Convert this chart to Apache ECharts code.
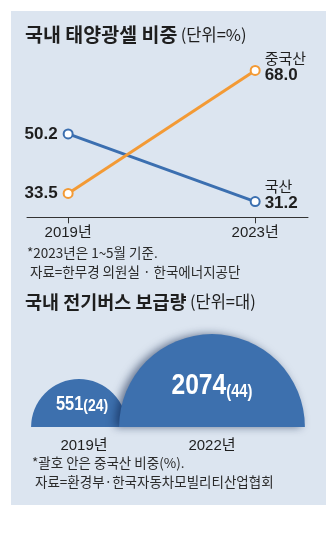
<!DOCTYPE html>
<html>
<head>
<meta charset="utf-8">
<script src="https://cdn.jsdelivr.net/npm/echarts@6/dist/echarts.min.js"></script>
<style>
html,body{margin:0;padding:0;background:#fff;}
#c{width:336px;height:536px;}
</style>
</head>
<body>
<div id="c"></div>
<script>
// ---- data ----
const solarYears = [2019, 2023];
const seriesNames = ['국산', '중국산'];
const domesticShare = [50.2, 31.2];
const chinaShare = [33.5, 68.0];
const busYearLabels = ['2019년', '2022년'];
const busCounts = [551, 2074];
const busChinaShare = [24, 44];

const NUM = "'Liberation Sans', 'Noto Sans CJK KR'";
const KR = "'Noto Sans CJK KR', 'Noto Sans'";
const BLUE = '#3b6fb0';
const ORANGE = '#f39a35';
const BUS = '#3d70ae';
const TXT = '#1e1e1e';
const RADIUS_K = 2.04;

function lineData(vals) {
  return vals.map(function (v, i) { return [solarYears[i], v]; });
}

const chart = echarts.init(document.getElementById('c'), null, {renderer: 'canvas'});

function endLabel(name, offsetY) {
  return {
    show: true, position: 'right', distance: 4, offset: [0, offsetY],
    formatter: function (p) { return '{n|' + name + '}\n{v|' + p.value[1].toFixed(1) + '}'; },
    rich: {
      n: {fontFamily: KR, fontSize: 15, color: TXT, lineHeight: 17},
      v: {fontFamily: NUM, fontSize: 17, fontWeight: 'bold', color: TXT, lineHeight: 17}
    }
  };
}
const startLabel = {
  show: true, position: 'left', distance: 5,
  formatter: function (p) { return p.value[1].toFixed(1); },
  fontFamily: NUM, fontSize: 17, fontWeight: 'bold', color: TXT
};

function buildSeriesData(vals, name, endOffset) {
  return lineData(vals).map(function (d, i) {
    return {value: d, label: i === 0 ? startLabel : endLabel(name, endOffset)};
  });
}

const noteFont = '13.5px ' + KR;

const option = {
  backgroundColor: '#ffffff',
  animation: false,
  graphic: [
    {type: 'rect', z: -10, shape: {x: 11, y: 11, width: 315, height: 494}, style: {fill: '#dce5f0'}},
    {type: 'text', x: 25, y: 35, style: {
      text: '{t|국내 태양광셀 비중} {u|(단위=%)}', verticalAlign: 'middle', textVerticalAlign: 'middle',
      rich: {t: {fontFamily: KR, fontSize: 19.5, fontWeight: 'bold', fill: TXT}, u: {fontFamily: KR, fontSize: 16.5, fill: TXT}}
    }},
    {type: 'text', x: 27, y: 253, style: {text: '*2023년은 1~5월 기준.', font: noteFont, fill: '#2a2a2a', verticalAlign: 'middle', textVerticalAlign: 'middle'}},
    {type: 'text', x: 30, y: 272, style: {text: '자료=한무경 의원실 · 한국에너지공단', font: noteFont, fill: '#2a2a2a', verticalAlign: 'middle', textVerticalAlign: 'middle'}},
    {type: 'text', x: 25, y: 302, style: {
      text: '{t|국내 전기버스 보급량} {u|(단위=대)}', verticalAlign: 'middle', textVerticalAlign: 'middle',
      rich: {t: {fontFamily: KR, fontSize: 18.5, fontWeight: 'bold', fill: TXT}, u: {fontFamily: KR, fontSize: 16.5, fill: TXT}}
    }},
    {type: 'text', x: 32, y: 463, style: {text: '*괄호 안은 중국산 비중(%).', font: noteFont, fill: '#2a2a2a', verticalAlign: 'middle', textVerticalAlign: 'middle'}},
    {type: 'text', x: 35, y: 482, style: {text: '자료=환경부·한국자동차모빌리티산업협회', font: noteFont, fill: '#2a2a2a', verticalAlign: 'middle', textVerticalAlign: 'middle'}}
  ],
  grid: [
    {left: 27, right: 28, top: 45.5, bottom: 318.7},
    {left: 11, right: 10, top: 320, bottom: 109}
  ],
  xAxis: [
    {
      gridIndex: 0, type: 'value', min: 2018.12, max: 2024.13,
      splitLine: {show: false},
      axisLine: {show: true, lineStyle: {color: '#333', width: 1}},
      axisTick: {show: true, customValues: solarYears, length: 6, lineStyle: {color: '#333'}},
      axisLabel: {show: true, customValues: solarYears, margin: 8, formatter: function (v) { return v + '년'; },
        fontFamily: NUM, fontSize: 15, color: TXT}
    },
    {
      gridIndex: 1, type: 'value', min: -0.511, max: 1.857,
      splitLine: {show: false}, axisLine: {show: false}, axisTick: {show: false},
      axisLabel: {show: true, customValues: [0, 1], margin: 11,
        formatter: function (v) { return (Math.round(v) === 0 ? '{p|}' : '') + '{y|' + busYearLabels[Math.round(v)] + '}'; },
        rich: {y: {fontFamily: NUM, fontSize: 15, color: TXT}, p: {width: 10}},
        fontFamily: NUM, fontSize: 15, color: TXT}
    }
  ],
  yAxis: [
    {gridIndex: 0, type: 'value', min: 26.8, max: 75, show: false},
    {gridIndex: 1, type: 'value', min: 0, max: 1, show: false}
  ],
  series: [
    {
      name: seriesNames[0], type: 'line', xAxisIndex: 0, yAxisIndex: 0,
      data: buildSeriesData(domesticShare, seriesNames[0], -7),
      lineStyle: {color: BLUE, width: 3}, itemStyle: {color: BLUE, borderWidth: 2.5},
      symbol: 'emptyCircle', symbolSize: 9, z: 3
    },
    {
      name: seriesNames[1], type: 'line', xAxisIndex: 0, yAxisIndex: 0,
      data: buildSeriesData(chinaShare, seriesNames[1], -3.5),
      lineStyle: {color: ORANGE, width: 3}, itemStyle: {color: ORANGE, borderWidth: 2.5},
      symbol: 'emptyCircle', symbolSize: 9, z: 4
    },
    {
      type: 'custom', xAxisIndex: 1, yAxisIndex: 1,
      data: busCounts.map(function (c, i) { return [i, 0, c, busChinaShare[i]]; }),
      renderItem: function (params, api) {
        const c = api.coord([api.value(0), api.value(1)]);
        const count = api.value(2);
        const share = api.value(3);
        const r = RADIUS_K * Math.sqrt(count);
        const big = params.dataIndex === 1;
        return {
          type: 'group',
          children: [
            {type: 'sector',
              shape: {cx: c[0], cy: c[1], r0: 0, r: r, startAngle: Math.PI, endAngle: Math.PI * 2, clockwise: true},
              style: big ? {fill: BUS, shadowBlur: 8, shadowOffsetX: -4, shadowColor: 'rgba(10,30,70,0.55)'} : {fill: BUS}},
            {type: 'text', x: c[0] + (big ? 0 : 3), y: c[1] - r * (big ? 0.44 : 0.47), scaleX: 0.82,
              style: {
                text: '{a|' + count + '}{b|(' + share + ')}',
                align: 'center', verticalAlign: 'middle',
                rich: {
                  a: {fontFamily: NUM, fontWeight: 'bold', fontSize: big ? 30 : 20, fill: '#fff', verticalAlign: 'bottom'},
                  b: {fontFamily: NUM, fontWeight: 'bold', fontSize: big ? 18 : 17, fill: '#fff', verticalAlign: 'bottom'}
                }
              }}
          ]
        };
      },
      z: 2
    }
  ]
};
chart.setOption(option);
</script>
</body>
</html>
